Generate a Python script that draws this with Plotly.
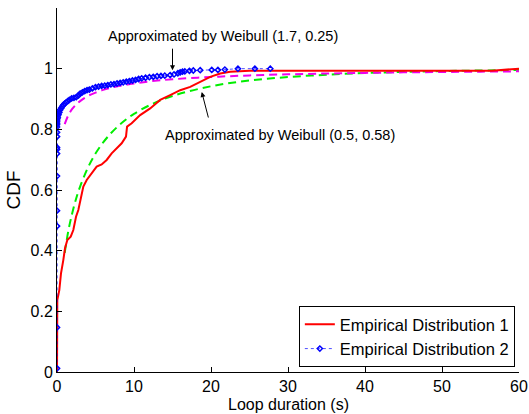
import plotly.graph_objects as go

# Empirical Distribution 1 (red)
ed1_x = [0, 0, 0.04, 0.3, 0.52, 0.82, 1.04, 1.34, 1.78, 2.12, 2.47, 2.77, 3.07, 3.42, 3.86,
         4.5, 5.15, 5.8, 6.45, 7.1, 7.75, 8.4, 8.96, 9.1, 9.7, 10.1, 10.8, 12.1, 13.4, 14.7,
         16.0, 17.3, 18.6, 19.9, 21.2, 22.5, 25, 56.5, 60]
ed1_y = [0, 0.22, 0.237, 0.27, 0.325, 0.369, 0.408, 0.435, 0.446, 0.468, 0.512, 0.534, 0.567,
         0.611, 0.633, 0.655, 0.677, 0.684, 0.699, 0.721, 0.737, 0.754, 0.776, 0.809, 0.82,
         0.83, 0.847, 0.869, 0.897, 0.913, 0.929, 0.94, 0.957, 0.973, 0.984, 0.99, 0.993,
         0.993, 1.0]

# Empirical Distribution 2 (blue)
ed2_x = [0, 0, 0, 0, 0, 0, 0, 0, 0, 0, 0, 0, 0, 0, 0,
         0.05, 0.1, 0.2, 0.3, 0.4, 0.55, 0.7, 0.85, 1.0, 1.2, 1.4, 1.6, 1.9, 2.2, 2.5, 2.8,
         3.0, 3.3, 3.6, 3.9, 4.2, 4.6, 5.0, 5.4, 5.8, 6.2, 6.6, 7.0, 7.4, 7.8, 8.2, 8.6,
         9.0, 9.4, 9.8, 10.2, 10.6, 11.0, 11.5, 12.0, 12.5, 13.0, 13.5, 14.0, 14.7, 15.2,
         15.7, 16.0, 16.3, 16.6, 17.2, 17.7, 18.6, 20.1, 20.9, 21.8, 23.5, 25.7, 27.7]
ed2_y = [0.012, 0.147, 0.481, 0.532, 0.646, 0.72, 0.734, 0.74, 0.776, 0.79, 0.808, 0.815,
         0.82, 0.825, 0.83,
         0.835, 0.84, 0.848, 0.856, 0.864, 0.870, 0.876, 0.881, 0.885, 0.889, 0.893, 0.897,
         0.902, 0.904, 0.906, 0.912, 0.918, 0.922, 0.926, 0.929, 0.931, 0.935, 0.939, 0.941,
         0.943, 0.944, 0.946, 0.948, 0.949, 0.951, 0.953, 0.955, 0.957, 0.959, 0.961, 0.963,
         0.966, 0.968, 0.970, 0.972, 0.973, 0.975, 0.976, 0.977, 0.979, 0.981, 0.985, 0.988,
         0.990, 0.991, 0.993, 0.994, 0.995, 0.996, 0.996, 0.997, 1.0, 1.0, 1.0]

# Weibull approximations (dashed)
wb_x = [1, 1.5, 2, 2.5, 3, 4, 5, 6, 7, 8, 9, 10, 12, 15, 20, 25, 30, 35, 40, 45, 50, 55, 60]
wb_a_y = [0.817, 0.848, 0.868, 0.882, 0.893, 0.910, 0.921, 0.930, 0.937, 0.943, 0.947, 0.951,
          0.958, 0.965, 0.9725, 0.9777, 0.9813, 0.984, 0.9861, 0.9878, 0.9891, 0.9902, 0.9912]
wb_b_y = [0.393, 0.469, 0.526, 0.573, 0.611, 0.673, 0.720, 0.757, 0.787, 0.812, 0.833, 0.851,
          0.879, 0.910, 0.942, 0.961, 0.9725, 0.980, 0.9857, 0.9894, 0.9920, 0.9940, 0.9954]

x_ticks = [0, 10, 20, 30, 40, 50, 60]
y_ticks = [0, 0.2, 0.4, 0.6, 0.8, 1.0]
y_ticktext = ["0", "0.2", "0.4", "0.6", "0.8", "1"]

fig = go.Figure()
fig.add_trace(go.Scatter(x=wb_x, y=wb_b_y, mode="lines", showlegend=False,
                         line=dict(color="#00ee00", width=2, dash="8px,5px", shape="spline")))
fig.add_trace(go.Scatter(x=wb_x, y=wb_a_y, mode="lines", showlegend=False,
                         line=dict(color="#ee00ee", width=2, dash="8px,5px", shape="spline")))
fig.add_trace(go.Scatter(x=ed1_x, y=ed1_y, mode="lines", name="Empirical Distribution 1",
                         line=dict(color="#ff0000", width=2)))
fig.add_trace(go.Scatter(x=ed2_x, y=ed2_y, mode="lines+markers", name="Empirical Distribution 2",
                         line=dict(color="#0000ff", width=0.7, dash="dot"),
                         marker=dict(symbol="diamond-open", size=4, color="#0000ff",
                                     line=dict(width=1.5, color="#0000ff"))))

fig.add_annotation(x=21.5, y=1.107, xref="x", yref="y", text="Approximated by Weibull (1.7, 0.25)",
                   showarrow=False, font=dict(size=14.5))
fig.add_annotation(x=15.0, y=0.995, xref="x", yref="y", text="", showarrow=True,
                   ax=0, ay=-23, arrowhead=2, arrowsize=1, arrowwidth=1, arrowcolor="black")
fig.add_annotation(x=29.0, y=0.781, xref="x", yref="y", text="Approximated by Weibull (0.5, 0.58)",
                   showarrow=False, font=dict(size=14.5))
fig.add_annotation(x=18.8, y=0.923, xref="x", yref="y", text="", showarrow=True,
                   ax=7, ay=27, arrowhead=2, arrowsize=1, arrowwidth=1, arrowcolor="black")
# x-axis title (placed as paper annotation for exact position)
fig.add_annotation(x=0.5, y=-0.088, xref="paper", yref="paper", text="Loop duration (s)",
                   showarrow=False, xanchor="center", yanchor="middle", font=dict(size=16),
                   borderpad=0)

fig.update_layout(
    width=529, height=414,
    margin=dict(l=57, r=10, t=8, b=42, autoexpand=False),
    plot_bgcolor="white", paper_bgcolor="white",
    font=dict(family="Liberation Sans, Arial, sans-serif", size=16, color="black"),
    legend=dict(x=0.991, y=0.014, xanchor="right", yanchor="bottom",
                bgcolor="white", bordercolor="black", borderwidth=1,
                font=dict(size=16.5), tracegroupgap=0, itemwidth=30),
)
fig.update_xaxes(range=[0, 60], tickvals=x_ticks, ticks="inside", ticklen=5, tickcolor="black",
                 showline=True, linecolor="black", linewidth=1, showgrid=False, zeroline=False,
                 automargin=False)
fig.update_yaxes(range=[0, 1.2], tickvals=y_ticks, ticktext=y_ticktext, ticks="inside", ticklen=5,
                 tickcolor="black", showline=True, linecolor="black", linewidth=1, showgrid=False,
                 zeroline=False, automargin=False, title=dict(text="CDF", standoff=4))

fig.write_html("out.html", config={"displayModeBar": False},
               post_script="document.body.style.margin='0';")
